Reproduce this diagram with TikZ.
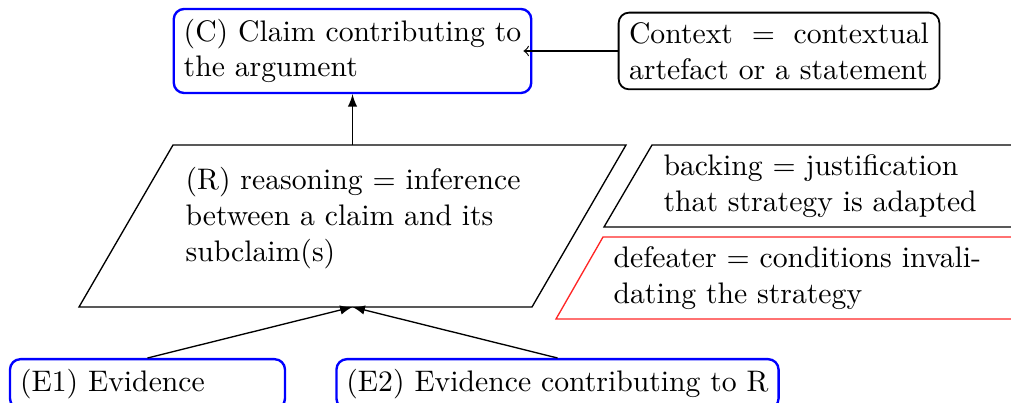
\documentclass[tikz,border=0pt]{standalone}
\usetikzlibrary{arrows}
\newdimen\pxu
\pxu=0.3367pt
\tikzset{
  bluebox/.style={draw=blue, thick, rounded corners=3.5pt, inner xsep=10\pxu, inner ysep=10\pxu, align=left},
  ctxbox/.style={draw=black, semithick, rounded corners=3.5pt, inner xsep=3.5pt, text width=101pt, align=justify},
  txt/.style={inner sep=0pt, align=left},
  para/.style={draw=black, line width=0.45pt},
  redpara/.style={draw=red!85, line width=0.45pt},
  conn/.style={-latex, line width=0.45pt},
  connopen/.style={->, line width=0.4pt}
}
\begin{document}
\begin{tikzpicture}[x=1\pxu, y=-1\pxu]
\useasboundingbox (0,0) rectangle (1011,403);
\clip (0,0) rectangle (1011,403);
% claim
\node[bluebox, minimum height=82\pxu] (C) at (352.5,51)
  {(C) Claim contributing to\\the argument};
% context
\node[ctxbox, minimum height=76\pxu] (Ctx) at (779,51)
  {Context $=$ contextual artefact or a statement};
% reasoning parallelogram
\coordinate (Rtl) at (173,145);
\coordinate (Rtr) at (626,145);
\coordinate (Rbr) at (532,307);
\coordinate (Rbl) at (79,307);
\draw[para] (Rtl) -- (Rtr) -- (Rbr) -- (Rbl) -- cycle;
\coordinate (Rn) at (352.5,145);
\coordinate (Rs) at (352.5,307);
\node[txt, anchor=west] (R) at (185,218)
  {(R) reasoning $=$ inference\\between a claim and its\\subclaim(s)};
% backing
\draw[para] (652,145) -- (1100,145) -- (1052,227) -- (604,227) -- cycle;
\node[txt, anchor=west] (B) at (663,186)
  {backing $=$ justification\\that strategy is adapted};
% defeater
\draw[redpara] (603,237) -- (1100,237) -- (1052,319) -- (556,319) -- cycle;
\node[txt, anchor=west] (D) at (613,278)
  {defeater $=$ conditions invali-\\dating the strategy};
% evidence
\node[bluebox, anchor=north, minimum width=275\pxu, text width=255\pxu] (E1) at (147.5,358)
  {(E1) Evidence};
\node[bluebox, anchor=north] (E2) at (557.5,358)
  {(E2) Evidence contributing to R};
% connectors
\draw[connopen, shorten >=-9\pxu] (Ctx.west) -- (C.east);
\draw[conn] (Rn) -- (C.south);
\draw[conn] (E1.north) -- (Rs);
\draw[conn] (E2.north) -- (Rs);
\end{tikzpicture}
\end{document}
